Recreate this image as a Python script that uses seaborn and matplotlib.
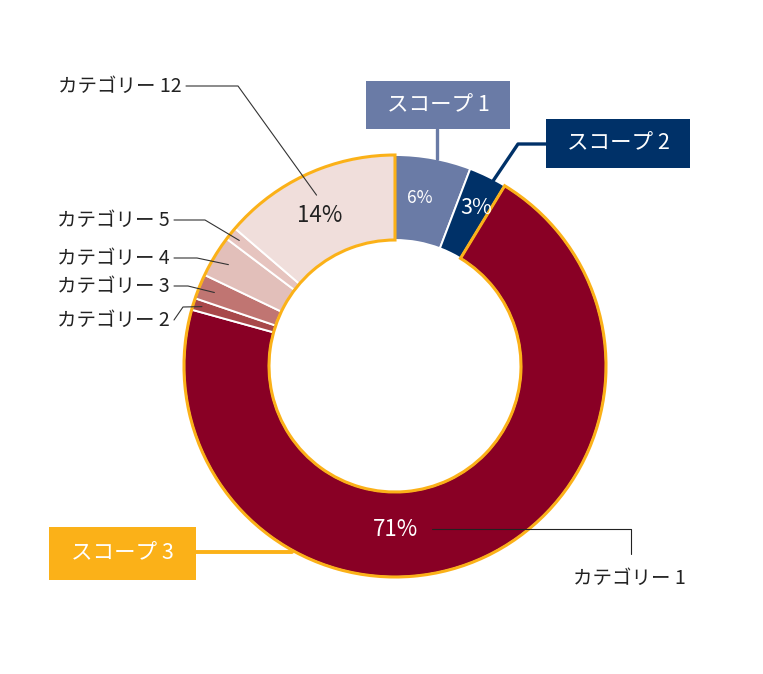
import numpy as np
import matplotlib
matplotlib.use('Agg')
import matplotlib.pyplot as plt
from matplotlib.patches import Rectangle
import seaborn as sns

sns.set_theme(style='white')
plt.rcParams['font.family'] = ['Noto Sans CJK JP', 'DejaVu Sans']

W, H = 763, 674

# data (share of emissions, %), clockwise from 12 o'clock
segments = ['スコープ 1', 'スコープ 2', 'カテゴリー 1', 'カテゴリー 2',
            'カテゴリー 3', 'カテゴリー 4', 'カテゴリー 5', 'カテゴリー 12']
values = [5.8, 2.9, 70.6, 0.9, 1.9, 3.2, 1.0, 13.7]
colors = ['#6A7BA6', '#003168', '#890025', '#A8484A',
          '#C07572', '#E2BFBA', '#E6C4BF', '#F0DEDB']
pct_labels = {0: '6%', 1: '3%', 2: '71%', 7: '14%'}

ORANGE = '#FBB118'
TXT = '#222222'

def Y(y):
    return H - y

cx, cy = 395, Y(366)
R_OUT, R_IN = 211, 126

fig = plt.figure(figsize=(W / 100, H / 100), dpi=100)
ax = fig.add_axes([0, 0, 1, 1])

wedges, _ = ax.pie(values, colors=colors, startangle=90, counterclock=False,
                   radius=R_OUT, center=(cx, cy),
                   wedgeprops=dict(width=R_OUT - R_IN, edgecolor='white', linewidth=1.4))

# orange outline around scope 3 group
scope12 = sum(values[:2])
scope3 = sum(values[2:])
outline, _ = ax.pie([scope12, scope3], startangle=90, counterclock=False,
                    radius=R_OUT, center=(cx, cy),
                    wedgeprops=dict(width=R_OUT - R_IN, fill=False, linewidth=2.2))
outline[0].set_edgecolor('none')
outline[1].set_edgecolor(ORANGE)
outline[1].set_zorder(5)

def polar(w, r, shift=0.0):
    a = np.deg2rad((w.theta1 + w.theta2) / 2 + shift)
    return cx + r * np.cos(a), cy + r * np.sin(a)

# percentage labels
pct_style = {0: (170, 2, 12.5, 'white'), 1: (178, -1, 15.5, 'white'),
             2: (165, None, 16, 'white'), 7: (168, 2, 16, TXT)}
for i, txt in pct_labels.items():
    r, shift, fs, col = pct_style[i]
    if shift is None:
        x, y = cx, cy - (R_OUT + R_IN) / 2 + 5
    else:
        x, y = polar(wedges[i], r, shift)
    ax.text(x, y, txt, ha='center', va='center', fontsize=fs, color=col, zorder=6)

# category leader lines (text anchor, elbow)
cat_layout = {
    7: ((182, 86), (238, 86), 188),
    6: ((170, 220), (205, 220), 200),
    5: ((170, 258), (197, 258), 195),
    4: ((170, 286), (188, 286), 195),
    3: ((170, 320), (183, 307), 202),
}
for i, ((tx, ty), (ex, ey), r) in cat_layout.items():
    px, py = polar(wedges[i], r)
    ax.plot([tx + 4, ex, px], [Y(ty), Y(ey), py], color='#333333', lw=0.8, zorder=7)
    ax.text(tx, Y(ty), segments[i], ha='right', va='center', fontsize=14, color=TXT)

# category 1 label
ax.plot([432, 631, 631], [Y(529), Y(529), Y(554)], color='#222222', lw=0.8, zorder=7)
ax.text(629, Y(578), segments[2], ha='center', va='center', fontsize=14, color=TXT)

# scope boxes
def box(x0, y0, x1, y1, color, text):
    ax.add_patch(Rectangle((x0, Y(y1)), x1 - x0, y1 - y0, facecolor=color,
                           edgecolor='none', zorder=8))
    ax.text((x0 + x1) / 2, Y((y0 + y1) / 2), text, ha='center', va='center',
            fontsize=15.5, color='white', zorder=9)

box(366, 81, 510, 129, colors[0], segments[0])
ax.plot([437, 437], [Y(129), Y(159)], color=colors[0], lw=2.4, zorder=4)

box(546, 119, 690, 168, colors[1], segments[1])
ax.plot([546, 518, 493], [Y(144), Y(144), Y(181)], color=colors[1], lw=2.4, zorder=4)

box(49, 527, 196, 580, ORANGE, 'スコープ 3')
ax.plot([196, 292], [Y(552), Y(552)], color=ORANGE, lw=2.8, zorder=4)

ax.set_xlim(0, W)
ax.set_ylim(0, H)
ax.set_aspect('equal')
ax.axis('off')

fig.savefig('out.png', dpi=100, facecolor='white')
